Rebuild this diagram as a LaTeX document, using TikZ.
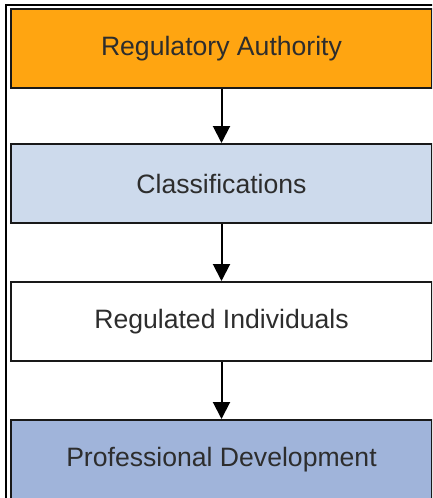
\documentclass[tikz,border=0pt]{standalone}
\usepackage{fontspec}
\setmainfont{Liberation Sans}
\usetikzlibrary{arrows.meta}
\definecolor{orangefill}{RGB}{255,165,17}
\definecolor{lightbluefill}{RGB}{205,218,236}
\definecolor{bluefill}{RGB}{160,180,218}
\definecolor{textgray}{RGB}{45,45,45}
\begin{document}
\begin{tikzpicture}[x=1pt,y=-1pt,
  stepbox/.style={draw=black!90, line width=2pt, minimum width=421pt, minimum height=79pt,
    inner sep=0pt, anchor=north west, font=\fontsize{26.6}{30}\selectfont, text=textgray},
  flow/.style={line width=2pt, draw=black, -{Triangle[length=17pt,width=17pt]}}]
\useasboundingbox (0,0) rectangle (432,498);
\clip (0,0) rectangle (432,498);
\draw[line width=1.5pt, black] (6,5) rectangle (450,520);
\node[stepbox, fill=orangefill] (auth) at (10,8) {Regulatory Authority};
\node[stepbox, fill=lightbluefill] (class) at (10,143) {Classifications};
\node[stepbox, fill=white] (indiv) at (10,281) {Regulated Individuals};
\node[stepbox, fill=bluefill] (prof) at (10,419) {Professional Development};
\draw[flow] (auth.south) -- (class.north);
\draw[flow] (class.south) -- (indiv.north);
\draw[flow] (indiv.south) -- (prof.north);
\end{tikzpicture}
\end{document}
